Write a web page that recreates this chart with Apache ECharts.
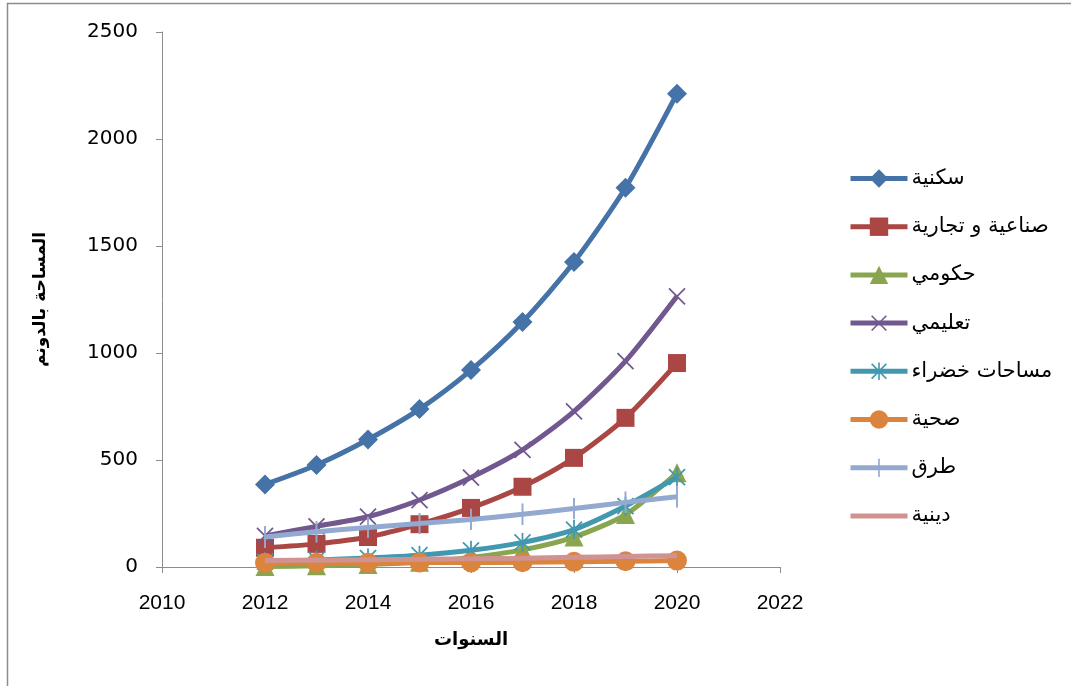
<!DOCTYPE html>
<html>
<head>
<meta charset="utf-8">
<script src="https://cdn.jsdelivr.net/npm/echarts@6/dist/echarts.min.js"></script>
<style>html,body{margin:0;padding:0;background:#fff;}#c{width:1071px;height:686px;}</style>
</head>
<body>
<div id="c"></div>
<script>
const years = [2012, 2013, 2014, 2015, 2016, 2017, 2018, 2019, 2020];
const seriesNames = ['سكنية', 'صناعية و تجارية', 'حكومي', 'تعليمي', 'مساحات خضراء', 'صحية', 'طرق', 'دينية'];
const residential = [386, 477, 596, 738, 920, 1145, 1425, 1772, 2212];
const industrial = [90, 108, 140, 200, 276, 375, 510, 697, 953];
const government = [2, 6, 12, 22, 45, 80, 140, 245, 440];
const education = [145, 190, 235, 313, 418, 547, 727, 962, 1265];
const green = [25, 33, 42, 55, 78, 115, 175, 285, 420];
const health = [20, 20, 20, 21, 21, 22, 24, 27, 30];
const roads = [140, 165, 185, 203, 222, 246, 273, 302, 328];
const religious = [30, 32, 34, 36, 38, 41, 45, 49, 53];
const yTicks = [0, 500, 1000, 1500, 2000, 2500];
const xTicks = [2010, 2012, 2014, 2016, 2018, 2020, 2022];

const colors = ['#4572A7', '#AA4643', '#89A54E', '#71588F', '#4198AF', '#DB843D', '#93A9CF', '#D19392'];

function svgSymbol(d, color) {
  const svg = "<svg xmlns='http://www.w3.org/2000/svg' width='40' height='40' viewBox='0 0 40 40'><path d='" + d +
    "' stroke='" + color + "' stroke-width='3.5' fill='none'/></svg>";
  return 'image://data:image/svg+xml;charset=utf-8,' + encodeURIComponent(svg);
}
const symbols = [
  'diamond', 'rect', 'triangle',
  svgSymbol('M4,4L36,36M36,4L4,36', colors[3]),
  svgSymbol('M4,4L36,36M36,4L4,36M20,1L20,39', colors[4]),
  'circle',
  svgSymbol('M20,0L20,40', colors[6]),
  'none'
];
const sizes = [20, 18, 19, 20, 20, 20, 22, 0];
const datasets = [residential, industrial, government, education, green, health, roads, religious];

const series = seriesNames.map((name, i) => ({
  name: name,
  type: 'line',
  smooth: 0.25,
  data: years.map((y, k) => [y, datasets[i][k]]),
  symbol: symbols[i],
  symbolSize: sizes[i],
  showSymbol: i !== 7,
  lineStyle: { color: colors[i], width: 5 },
  itemStyle: { color: colors[i] },
  z: 2 + i
}));

const legendData = seriesNames.map((name, i) =>
  i === 7 ? { name: name, itemStyle: { opacity: 0 } } : { name: name });

const chart = echarts.init(document.getElementById('c'));
chart.setOption({
  animation: false,
  backgroundColor: '#fff',
  textStyle: { fontFamily: 'Liberation Sans, DejaVu Sans, sans-serif' },
  graphic: [{
    type: 'rect',
    shape: { x: 7.5, y: 3.5, width: 1200, height: 800 },
    style: { fill: 'none', stroke: '#8c8c8c', lineWidth: 1.5 },
    silent: true
  }],
  grid: { left: 162, right: 291, top: 32, bottom: 119 },
  legend: {
    orient: 'vertical',
    left: 843,
    top: 163,
    itemWidth: 57,
    itemHeight: 23,
    itemGap: 27.2,
    data: legendData,
    lineStyle: { width: 5 },
    textStyle: { fontSize: 21, color: '#000', fontFamily: 'DejaVu Sans, sans-serif', padding: [0, 0, 0, -1] }
  },
  xAxis: {
    type: 'value',
    min: xTicks[0],
    max: xTicks[xTicks.length - 1],
    interval: 2,
    name: 'السنوات',
    nameLocation: 'middle',
    nameGap: 64,
    nameTextStyle: { fontSize: 18, fontWeight: 'bold', color: '#000', fontFamily: 'DejaVu Sans, sans-serif' },
    axisLine: { show: true, lineStyle: { color: '#8c8c8c', width: 1 } },
    axisTick: { show: true, inside: false, length: 6, lineStyle: { color: '#8c8c8c' } },
    axisLabel: { fontSize: 21, color: '#000', margin: 26, fontFamily: 'Liberation Sans, sans-serif', formatter: v => String(v) },
    splitLine: { show: false }
  },
  yAxis: {
    type: 'value',
    min: yTicks[0],
    max: yTicks[yTicks.length - 1],
    interval: 500,
    name: 'المساحة بالدونم',
    nameLocation: 'middle',
    nameGap: 113,
    nameRotate: 90,
    nameTextStyle: { fontSize: 17, fontWeight: 'bold', color: '#000', fontFamily: 'DejaVu Sans, sans-serif' },
    axisLine: { show: true, lineStyle: { color: '#8c8c8c', width: 1 } },
    axisTick: { show: true, inside: false, length: 6, lineStyle: { color: '#8c8c8c' } },
    axisLabel: { fontSize: 20, color: '#000', margin: 24, fontFamily: 'DejaVu Sans, sans-serif', formatter: v => String(v) },
    splitLine: { show: false }
  },
  series: series
});
</script>
</body>
</html>
